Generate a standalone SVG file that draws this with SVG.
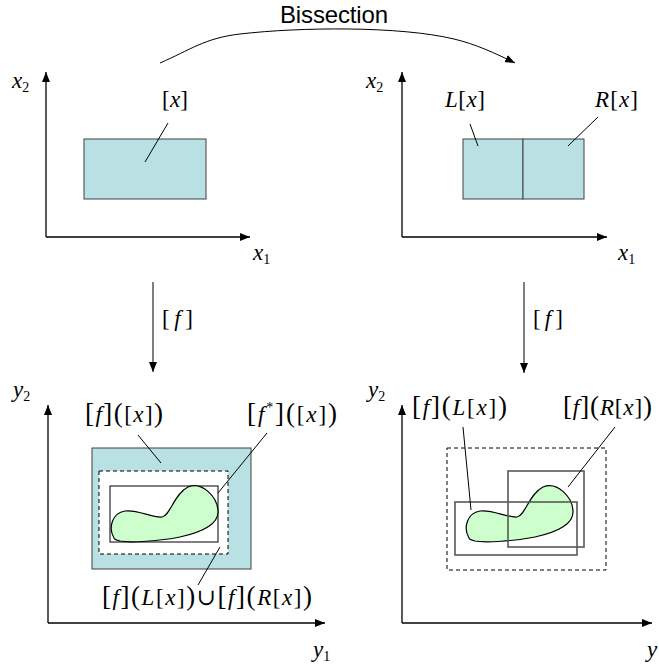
<svg xmlns="http://www.w3.org/2000/svg" width="659" height="664" viewBox="0 0 659 664">
<defs>
<style>
.ax{stroke:#000;stroke-width:1.3;fill:none}
.ld{stroke:#000;stroke-width:1;fill:none}
.box{fill:#B9E0E3;stroke:#404040;stroke-width:1}
.dash{fill:#fff;stroke:#000;stroke-width:1;stroke-dasharray:4 3}
.thin{fill:none;stroke:#000;stroke-width:1}
.gbox{fill:none;stroke:#595959;stroke-width:1.6}
.blob{fill:#CCFFCC;stroke:#000;stroke-width:1.2}
.m{font-size:23px;fill:#000}
.i{font-style:italic}
.d{font-size:27px}
.sub{font-size:14px}
.sans{font-size:24px;fill:#000}
</style>
<marker id="ah" markerUnits="userSpaceOnUse" markerWidth="10" markerHeight="8" refX="10" refY="4" orient="auto">
<path d="M0,0 L10,4 L0,8 Z" fill="#000"/>
</marker>
<path id="blobshape" d="M114,538 C108,528 112,513 125,511 C137,509 152,518 162,517 C170,516 174,494 188,487 C202,481 218,497 218,512 C218,526 198,533 180,537 C160,541 130,543 120,541 C116,540 114,539 114,538 Z"/>
</defs>

<g id="panel-top-left">
<line class="ax" x1="46" y1="237" x2="46" y2="72" marker-end="url(#ah)"/>
<line class="ax" x1="46" y1="237" x2="250" y2="237" marker-end="url(#ah)"/>
<text class="m" font-family="Liberation Serif, Times New Roman, DejaVu Serif, serif" x="12" y="88"><tspan class="i">x</tspan><tspan class="sub" dy="4">2</tspan></text>
<text class="m" font-family="Liberation Serif, Times New Roman, DejaVu Serif, serif" x="253" y="260"><tspan class="i">x</tspan><tspan class="sub" dy="4">1</tspan></text>
<g id="box-x">
<rect class="box" x="84" y="139" width="122" height="60"/>
<line class="ld" x1="168" y1="123" x2="145" y2="162"/>
<text class="m" font-family="Liberation Serif, Times New Roman, DejaVu Serif, serif" x="162" y="107" textLength="26">[<tspan class="i">x</tspan>]</text>
</g>
</g>

<g id="panel-top-right">
<line class="ax" x1="402" y1="237" x2="402" y2="72" marker-end="url(#ah)"/>
<line class="ax" x1="402" y1="237" x2="607" y2="237" marker-end="url(#ah)"/>
<text class="m" font-family="Liberation Serif, Times New Roman, DejaVu Serif, serif" x="366" y="88"><tspan class="i">x</tspan><tspan class="sub" dy="4">2</tspan></text>
<text class="m" font-family="Liberation Serif, Times New Roman, DejaVu Serif, serif" x="618" y="260"><tspan class="i">x</tspan><tspan class="sub" dy="4">1</tspan></text>
<g id="box-Lx">
<rect class="box" x="463" y="139" width="60" height="60"/>
<line class="ld" x1="470" y1="124" x2="478" y2="146"/>
<text class="m" font-family="Liberation Serif, Times New Roman, DejaVu Serif, serif" x="445" y="107" textLength="40"><tspan class="i">L</tspan>[<tspan class="i">x</tspan>]</text>
</g>
<g id="box-Rx">
<rect class="box" x="523" y="139" width="61" height="60"/>
<line class="ld" x1="598" y1="117" x2="568" y2="146"/>
<text class="m" font-family="Liberation Serif, Times New Roman, DejaVu Serif, serif" x="595" y="107" textLength="43"><tspan class="i">R</tspan>[<tspan class="i">x</tspan>]</text>
</g>
</g>

<g id="panel-bottom-left">
<line class="ax" x1="48" y1="623" x2="48" y2="405" marker-end="url(#ah)"/>
<line class="ax" x1="48" y1="623" x2="325" y2="623" marker-end="url(#ah)"/>
<text class="m" font-family="Liberation Serif, Times New Roman, DejaVu Serif, serif" x="13" y="397"><tspan class="i">y</tspan><tspan class="sub" dy="4">2</tspan></text>
<text class="m" font-family="Liberation Serif, Times New Roman, DejaVu Serif, serif" x="313" y="657"><tspan class="i">y</tspan><tspan class="sub" dy="4">1</tspan></text>
<g id="hull-fx">
<rect class="box" x="92" y="448" width="159" height="121"/>
<line class="ld" x1="138" y1="435" x2="161" y2="463"/>
<text class="m" font-family="Liberation Serif, Times New Roman, DejaVu Serif, serif" x="85" y="422" textLength="78"><tspan class="d">[</tspan><tspan class="i">f</tspan><tspan class="d">]</tspan><tspan class="d">(</tspan>[<tspan class="i">x</tspan>]<tspan class="d">)</tspan></text>
</g>
<g id="union-box">
<rect class="dash" x="99" y="471" width="129" height="83"/>
<line class="ld" x1="198" y1="585" x2="220" y2="547"/>
<text class="m" font-family="Liberation Serif, Times New Roman, DejaVu Serif, serif" x="102" y="605" textLength="210"><tspan class="d">[</tspan><tspan class="i">f</tspan><tspan class="d">]</tspan><tspan class="d">(</tspan><tspan class="i">L</tspan>[<tspan class="i">x</tspan>]<tspan class="d">)</tspan>∪<tspan class="d">[</tspan><tspan class="i">f</tspan><tspan class="d">]</tspan><tspan class="d">(</tspan><tspan class="i">R</tspan>[<tspan class="i">x</tspan>]<tspan class="d">)</tspan></text>
</g>
<g id="hull-fstar">
<rect class="thin" x="110" y="486" width="108" height="56"/>
<use href="#blobshape" class="blob"/>
<line class="ld" x1="267" y1="433" x2="218" y2="493"/>
<text class="m" font-family="Liberation Serif, Times New Roman, DejaVu Serif, serif" x="247" y="422" textLength="90"><tspan class="d">[</tspan><tspan class="i">f</tspan><tspan class="sub" dy="-10">*</tspan><tspan class="d" dy="10">]</tspan><tspan class="d">(</tspan>[<tspan class="i">x</tspan>]<tspan class="d">)</tspan></text>
</g>
</g>

<g id="panel-bottom-right">
<line class="ax" x1="402" y1="623" x2="402" y2="405" marker-end="url(#ah)"/>
<line class="ax" x1="402" y1="623" x2="652" y2="623" marker-end="url(#ah)"/>
<text class="m" font-family="Liberation Serif, Times New Roman, DejaVu Serif, serif" x="368" y="397"><tspan class="i">y</tspan><tspan class="sub" dy="4">2</tspan></text>
<text class="m" font-family="Liberation Serif, Times New Roman, DejaVu Serif, serif" x="647" y="657"><tspan class="i">y</tspan></text>
<g id="union-box-right">
<rect class="dash" x="447" y="448" width="159" height="122"/>
</g>
<use href="#blobshape" class="blob" transform="translate(355,0)"/>
<g id="box-fLx">
<rect class="gbox" x="455" y="502" width="122" height="53"/>
<line class="ld" x1="463" y1="427" x2="471" y2="510"/>
<text class="m" font-family="Liberation Serif, Times New Roman, DejaVu Serif, serif" x="412" y="415" textLength="95"><tspan class="d">[</tspan><tspan class="i">f</tspan><tspan class="d">]</tspan><tspan class="d">(</tspan><tspan class="i">L</tspan>[<tspan class="i">x</tspan>]<tspan class="d">)</tspan></text>
</g>
<g id="box-fRx">
<rect class="gbox" x="508" y="471" width="76" height="76"/>
<line class="ld" x1="615" y1="427" x2="568" y2="487"/>
<text class="m" font-family="Liberation Serif, Times New Roman, DejaVu Serif, serif" x="563" y="415" textLength="89"><tspan class="d">[</tspan><tspan class="i">f</tspan><tspan class="d">]</tspan><tspan class="d">(</tspan><tspan class="i">R</tspan>[<tspan class="i">x</tspan>]<tspan class="d">)</tspan></text>
</g>
</g>

<g id="connectors">
<path class="ld" d="M160,63 C190,50 205,38 240,34 C300,27 400,26 454,39 C475,44 495,53 515,63" marker-end="url(#ah)"/>
<text class="sans" font-family="Liberation Sans, Arial, sans-serif" x="280" y="23" textLength="108">Bissection</text>
<line class="ld" x1="153" y1="282" x2="153" y2="372" marker-end="url(#ah)"/>
<text class="m" font-family="Liberation Serif, Times New Roman, DejaVu Serif, serif" x="162" y="326" textLength="31">[<tspan class="i">f</tspan>]</text>
<line class="ld" x1="524" y1="282" x2="524" y2="373" marker-end="url(#ah)"/>
<text class="m" font-family="Liberation Serif, Times New Roman, DejaVu Serif, serif" x="533" y="326" textLength="30">[<tspan class="i">f</tspan>]</text>
</g>
</svg>
